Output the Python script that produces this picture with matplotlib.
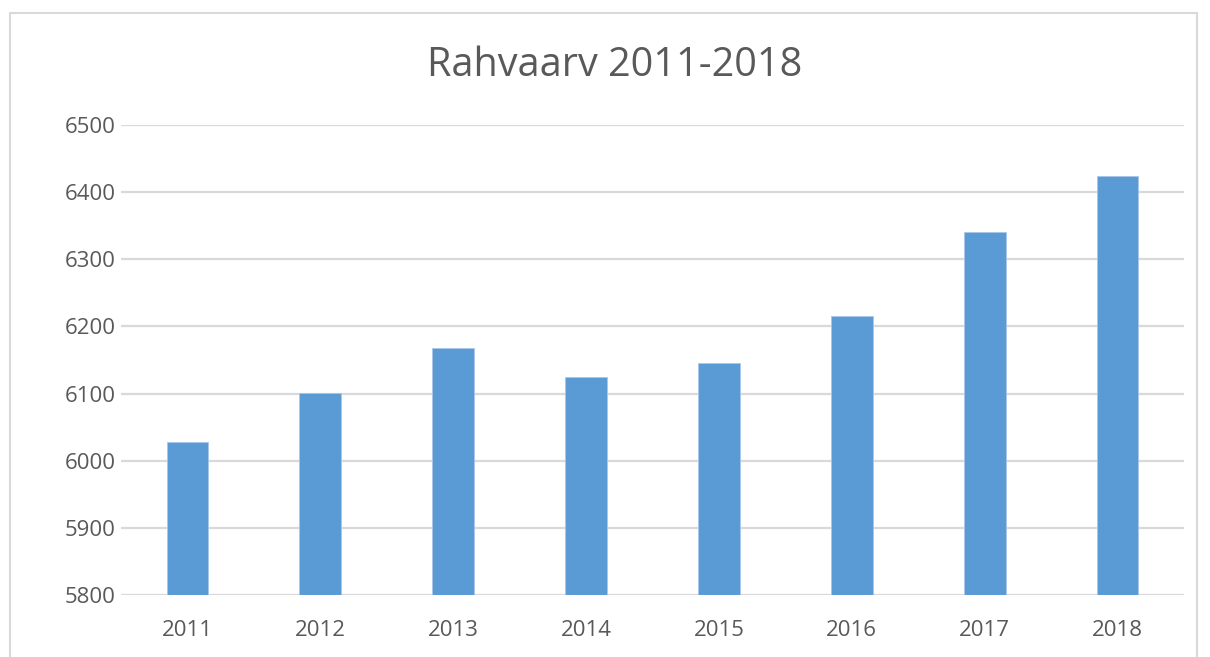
import matplotlib.pyplot as plt
from matplotlib.patches import Rectangle

years = ['2011', '2012', '2013', '2014', '2015', '2016', '2017', '2018']
rahvaarv = [6028, 6101, 6168, 6125, 6146, 6215, 6340, 6424]
yticks = [5800, 5900, 6000, 6100, 6200, 6300, 6400, 6500]

plt.rcParams['font.family'] = ['Open Sans', 'DejaVu Sans']
grey = '#595959'

fig = plt.figure(figsize=(12.1, 6.57), dpi=100)
ax = fig.add_axes([0.1, 0.0944, 0.8785, 0.7153])

x = range(len(years))
ax.bar(x, rahvaarv, width=0.315, color='#5B9BD5', edgecolor='#a9c8ea', linewidth=0.6, zorder=3)

ax.set_ylim(5800, 6500)
ax.set_xlim(-0.5, len(years) - 0.5)
ax.set_yticks(yticks)
ax.set_xticks(list(x))
ax.set_xticklabels(years)
ax.tick_params(axis='both', length=0, labelsize=16, colors=grey)
ax.tick_params(axis='y', pad=4)
ax.tick_params(axis='x', pad=18)
ax.grid(axis='y', color='#d9d9d9', linewidth=1.6, zorder=0)
for s in ax.spines.values():
    s.set_visible(False)

fig.text(0.508, 0.9, 'Rahvaarv 2011-2018', ha='center', va='center', fontsize=28.5, color=grey)

# chart frame
fig.patches.append(Rectangle((10 / 1210, -0.1), 1187 / 1210, 1.1 - 13 / 657,
                             transform=fig.transFigure, fill=False,
                             edgecolor='#d9d9d9', linewidth=1.5))

fig.savefig('out.png', dpi=100)
